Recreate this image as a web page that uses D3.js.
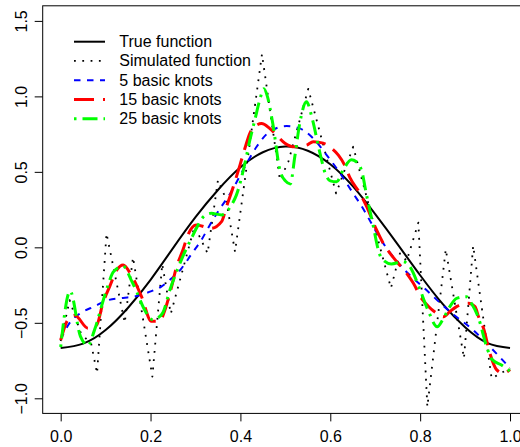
<!DOCTYPE html>
<html>
<head>
<meta charset="utf-8">
<script src="https://cdn.jsdelivr.net/npm/d3@7"></script>
<style>
  html, body { margin: 0; padding: 0; background: #fff; }
  svg { display: block; }
  text { font-family: "Liberation Sans", Arial, Helvetica, sans-serif; font-size: 16px; fill: #000; }
</style>
</head>
<body>
<svg id="chart" width="520" height="447"></svg>
<script>
// Tick positions on both axes
const xTicks = [0.0, 0.2, 0.4, 0.6, 0.8, 1.0];
const yTicks = [-1.0, -0.5, 0.0, 0.5, 1.0, 1.5];

// True function
const trueFn = [
  [0.00, -0.667], [0.05, -0.638], [0.10, -0.548], [0.15, -0.400], [0.20, -0.215],
  [0.25, -0.005], [0.30, 0.200], [0.35, 0.380], [0.40, 0.530], [0.45, 0.630],
  [0.50, 0.668], [0.55, 0.640], [0.60, 0.550], [0.65, 0.405], [0.70, 0.220],
  [0.75, 0.020], [0.80, -0.185], [0.85, -0.375], [0.90, -0.530], [0.95, -0.635],
  [1.00, -0.667]
];

// Simulated (noisy) function
const simulated = [
  [0.000, -0.62], [0.020, -0.35], [0.045, -0.57], [0.068, -0.64], [0.081, -0.835],
  [0.102, 0.093], [0.1425, -0.50], [0.161, -0.066], [0.204, -0.857], [0.226, -0.11],
  [0.245, -0.44], [0.298, 0.14], [0.327, -0.04], [0.350, 0.445], [0.368, 0.32],
  [0.388, -0.03], [0.448, 1.28], [0.488, 0.445], [0.507, 0.57], [0.551, 1.05],
  [0.613, 0.357], [0.651, 0.666], [0.735, -0.27], [0.755, -0.04], [0.770, -0.09],
  [0.796, 0.163], [0.816, -1.056], [0.857, -0.013], [0.8975, -0.735], [0.918, 0.01],
  [0.959, -0.868], [1.000, -0.80]
];

// Spline fit with 5 basic knots
const fit5 = [
  [0.000, -0.61], [0.020, -0.50], [0.042, -0.44], [0.076, -0.39], [0.105, -0.35],
  [0.139, -0.335], [0.165, -0.325], [0.202, -0.29], [0.224, -0.26], [0.247, -0.205],
  [0.269, -0.139], [0.291, -0.045], [0.313, 0.048], [0.332, 0.148], [0.350, 0.236],
  [0.380, 0.37], [0.406, 0.512], [0.436, 0.666], [0.465, 0.766], [0.503, 0.803],
  [0.532, 0.788], [0.562, 0.722], [0.592, 0.611], [0.622, 0.49], [0.651, 0.357],
  [0.666, 0.29], [0.718, 0.026], [0.762, -0.139], [0.814, -0.283], [0.866, -0.426],
  [0.918, -0.548], [0.955, -0.658], [1.000, -0.80]
];

// Spline fit with 15 basic knots
const fit15 = [
  [0.000, -0.615], [0.016, -0.48], [0.031, -0.45], [0.061, -0.536], [0.080, -0.515],
  [0.094, -0.37], [0.109, -0.26], [0.125, -0.15], [0.139, -0.117], [0.157, -0.183],
  [0.180, -0.327], [0.202, -0.49], [0.220, -0.49], [0.232, -0.415], [0.243, -0.305],
  [0.258, -0.128], [0.272, -0.018], [0.283, 0.081], [0.302, 0.148], [0.335, 0.126],
  [0.358, 0.17], [0.369, 0.269], [0.384, 0.40], [0.399, 0.545], [0.410, 0.656],
  [0.421, 0.755], [0.432, 0.80], [0.447, 0.82], [0.465, 0.788], [0.480, 0.744],
  [0.499, 0.69], [0.521, 0.666], [0.547, 0.677], [0.562, 0.70], [0.584, 0.69],
  [0.603, 0.656], [0.618, 0.611], [0.632, 0.545], [0.644, 0.46], [0.666, 0.357],
  [0.681, 0.269], [0.703, 0.115], [0.718, 0.026], [0.733, -0.04], [0.748, -0.095],
  [0.770, -0.172], [0.785, -0.238], [0.803, -0.338], [0.818, -0.39], [0.837, -0.437],
  [0.852, -0.46], [0.866, -0.426], [0.881, -0.393], [0.907, -0.37], [0.922, -0.393],
  [0.930, -0.46], [0.941, -0.536], [0.955, -0.70], [0.970, -0.81], [0.985, -0.834],
  [1.000, -0.81]
];

// Spline fit with 25 basic knots
const fit25 = [
  [0.000, -0.66], [0.021, -0.29], [0.044, -0.59], [0.061, -0.65], [0.075, -0.55],
  [0.100, -0.30], [0.118, -0.16], [0.139, -0.125], [0.157, -0.217], [0.169, -0.294],
  [0.187, -0.415], [0.205, -0.48], [0.215, -0.47], [0.228, -0.43], [0.243, -0.283],
  [0.261, -0.139], [0.270, -0.073], [0.291, 0.06], [0.302, 0.126], [0.317, 0.20],
  [0.335, 0.225], [0.358, 0.215], [0.380, 0.28], [0.391, 0.346], [0.410, 0.556],
  [0.421, 0.71], [0.432, 0.843], [0.443, 0.975], [0.452, 1.05], [0.460, 1.00],
  [0.472, 0.82], [0.488, 0.51], [0.500, 0.44], [0.511, 0.42], [0.521, 0.60],
  [0.532, 0.82], [0.547, 0.964], [0.560, 0.85], [0.575, 0.65], [0.590, 0.48],
  [0.600, 0.44], [0.614, 0.434], [0.630, 0.52], [0.647, 0.58], [0.658, 0.567],
  [0.671, 0.494], [0.680, 0.357], [0.696, 0.136], [0.707, -0.018], [0.714, -0.073],
  [0.736, -0.11], [0.762, -0.095], [0.777, -0.128], [0.800, -0.283], [0.818, -0.42],
  [0.838, -0.526], [0.850, -0.48], [0.866, -0.393], [0.881, -0.338], [0.903, -0.327],
  [0.914, -0.37], [0.929, -0.46], [0.948, -0.658], [0.959, -0.74], [0.981, -0.78],
  [1.000, -0.82]
];

const legendLabels = ["True function", "Simulated function", "5 basic knots", "15 basic knots", "25 basic knots"];

// Line styles for each series, in legend order
const styles = [
  { color: "#000000", width: 2,   dash: null,        curve: d3.curveNatural },
  { color: "#000000", width: 1.8, dash: "1.8,6.5",   curve: d3.curveLinear },
  { color: "#0000ff", width: 2,   dash: "6.5,6.5",   curve: d3.curveMonotoneX },
  { color: "#ff0000", width: 3,   dash: "20,9",      curve: d3.curveMonotoneX },
  { color: "#00ff00", width: 3,   dash: "2.5,6,15,6", curve: d3.curveMonotoneX }
];
const seriesData = [trueFn, simulated, fit5, fit15, fit25];

const svg = d3.select("#chart");

// Scales: data range padded by 4% as in base graphics
const x = d3.scaleLinear().domain([-0.04, 1.04]).range([42.7, 528.0]);
const y = d3.scaleLinear().domain([-1.1, 1.6]).range([413.4, 5.8]);

// Curves
const plot = svg.append("g");
seriesData.forEach((data, i) => {
  const s = styles[i];
  const line = d3.line().x(d => x(d[0])).y(d => y(d[1])).curve(s.curve);
  plot.append("path")
    .attr("d", line(data))
    .attr("fill", "none")
    .attr("stroke", s.color)
    .attr("stroke-width", s.width)
    .attr("stroke-dasharray", s.dash)
    .attr("stroke-linecap", "butt")
    .attr("stroke-linejoin", "round");
});

// Plot frame
svg.append("rect")
  .attr("x", x.range()[0]).attr("y", y.range()[1])
  .attr("width", x.range()[1] - x.range()[0])
  .attr("height", y.range()[0] - y.range()[1])
  .attr("fill", "none").attr("stroke", "#000").attr("stroke-width", 1);

const fmt = d3.format(".1f");

// X axis
const xAxis = svg.append("g")
  .attr("transform", `translate(0,${y.range()[0]})`)
  .call(d3.axisBottom(x).tickValues(xTicks).tickSize(8).tickPadding(0).tickFormat(fmt));
xAxis.select(".domain").remove();
xAxis.selectAll(".tick line").attr("stroke", "#000");
xAxis.selectAll(".tick text")
  .attr("y", 29).attr("dy", null)
  .style("font-size", "16px")
  .style("font-family", "'Liberation Sans', Arial, sans-serif");

// Y axis with labels rotated parallel to the axis
const yAxis = svg.append("g")
  .attr("transform", `translate(${x.range()[0]},0)`)
  .call(d3.axisLeft(y).tickValues(yTicks).tickSize(8).tickPadding(0).tickFormat(fmt));
yAxis.select(".domain").remove();
yAxis.selectAll(".tick line").attr("stroke", "#000");
yAxis.selectAll(".tick text")
  .attr("x", null).attr("dy", null)
  .attr("text-anchor", "middle")
  .attr("transform", "translate(-15.5,0) rotate(-90)")
  .style("font-size", "16px")
  .style("font-family", "'Liberation Sans', Arial, sans-serif");

// Legend
const legend = svg.append("g");
legendLabels.forEach((label, i) => {
  const s = styles[i];
  const base = 47 + i * 19.25;
  legend.append("line")
    .attr("x1", 74).attr("x2", 105)
    .attr("y1", base - 5.3).attr("y2", base - 5.3)
    .attr("stroke", s.color)
    .attr("stroke-width", s.width)
    .attr("stroke-dasharray", s.dash)
    .attr("stroke-linecap", "butt");
  legend.append("text")
    .attr("x", 119.3).attr("y", base)
    .text(label);
});
</script>
</body>
</html>
